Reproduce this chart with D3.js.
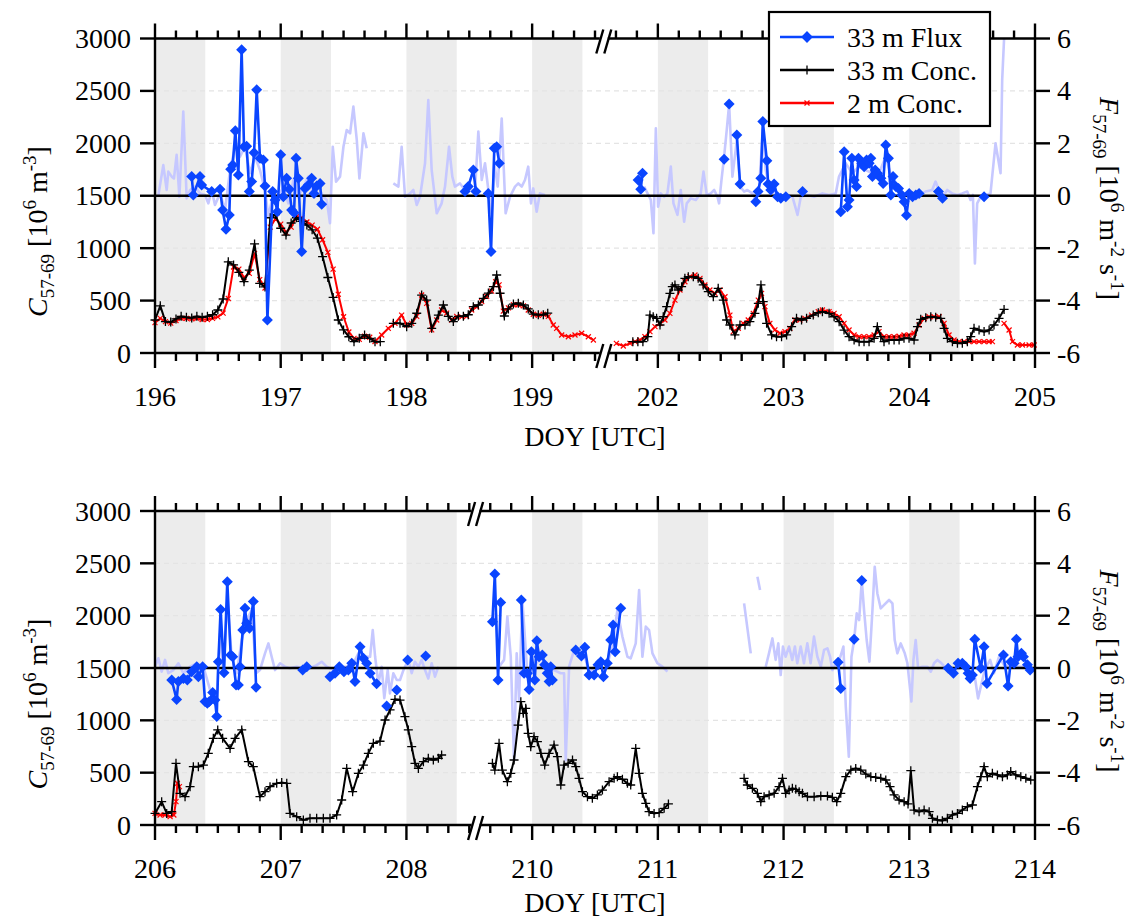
<!DOCTYPE html>
<html>
<head>
<meta charset="utf-8">
<script src="https://cdn.jsdelivr.net/npm/d3@7"></script>
<style>
  body { margin: 0; background: #fff; }
  svg { display: block; }
  text { font-family: "Liberation Serif", "Times New Roman", serif; fill: #000; }
</style>
</head>
<body>
<svg id="chart" width="1138" height="920"></svg>
<script>
// ---------------------------------------------------------------------------
// Axis definitions
// ---------------------------------------------------------------------------
const topDays = [196, 197, 198, 199, 202, 203, 204, 205];
const bottomDays = [206, 207, 208, 210, 211, 212, 213, 214];
const topRange = [196, 199.57, 201.57, 205];      // visible DOY, with a broken gap
const bottomRange = [206, 208.55, 209.55, 214];
const topNights = [196, 197, 198, 199, 202, 203, 204];
const bottomNights = [206, 207, 208, 210, 211, 212, 213];
const nightLength = 0.4;
const concTicks = [0, 500, 1000, 1500, 2000, 2500, 3000];
const concGrid = [500, 1000, 2000, 2500];
const fluxTicks = [-6, -4, -2, 0, 2, 4, 6];
const legendLabels = ["33 m Flux", "33 m Conc.", "2 m Conc."];

// ---------------------------------------------------------------------------
// Measurements: [DOY, value]; null marks a gap in a record
// ---------------------------------------------------------------------------
// 33 m particle flux, quality-controlled  [10^6 m^-2 s^-1]
const flux33Top = [
  [196.292,0.73],[196.305,0.03],[196.358,0.73],[196.371,0.41],[196.451,0.16],[196.517,0.25],[196.538,-0.54],
  [196.565,-1.28],[196.591,-0.73],[196.602,1.01],[196.618,1.17],[196.639,2.48],[196.663,0.79],[196.689,5.57],
  [196.708,1.87],[196.729,1.89],[196.75,0.16],[196.769,0.54],[196.788,1.64],[196.809,4.04],[196.835,1.43],
  [196.862,1.36],[196.875,0.37],[196.894,-4.74],[196.936,0.16],[196.955,-0.16],[196.973,-0.61],[197.0,1.56],
  [197.021,-0.04],[197.047,0.67],[197.069,0.25],[197.087,-0.54],[197.106,-0.65],[197.122,1.43],[197.14,0.67],
  [197.167,-2.13],[197.193,0.28],[197.22,0.41],[197.246,0.67],[197.265,0.09],[197.286,0.37],[197.313,0.47],
  [197.326,-0.32],
  null,
  [198.466,0.16],[198.492,0.35],[198.532,0.98],[198.553,0.16],
  null,
  [198.651,0.09],[198.673,-2.13],[198.699,1.81],[198.718,1.87],[198.739,1.24],
  null,
  [201.843,0.6],[201.864,0.25],[201.878,0.86],null,[202.527,1.39],null,[202.567,3.5],null,
  [202.628,2.32],[202.654,0.45],
  null,
  [202.779,-0.23],[202.797,0.16],[202.819,0.67],[202.835,2.83],[202.867,1.34],[202.877,0.45],[202.898,0.22],
  [202.925,0.45],[202.952,-0.04],[202.978,-0.1],[203.018,-0.04],null,[203.151,0.16],
  null,
  [203.455,-0.61],[203.482,1.68],[203.508,-0.42],[203.521,-0.16],[203.543,1.43],[203.561,0.6],[203.58,0.35],
  [203.596,1.43],[203.622,1.24],[203.641,1.11],[203.66,1.36],[203.681,1.24],[203.694,1.43],[203.707,0.73],
  [203.729,0.98],[203.747,0.86],[203.774,0.67],[203.792,0.47],[203.813,1.94],[203.834,1.43],[203.853,0.03],
  [203.871,0.73],[203.893,0.35],[203.914,0.28],[203.94,0.03],[203.959,-0.23],[203.978,-0.74],[203.999,0.09],
  [204.026,-0.04],[204.052,0.03],[204.078,0.09],
  null,
  [204.232,0.16],[204.264,-0.1],null,[204.595,-0.04]
];

const flux33Bottom = [
  [206.133,-0.46],[206.172,-1.2],[206.186,-0.52],[206.226,-0.4],[206.257,-0.46],[206.292,-0.14],[206.332,0.05],
  [206.345,-0.33],[206.379,0.05],[206.398,-1.28],[206.416,-1.35],[206.432,-1.28],[206.459,-0.94],[206.477,-1.22],
  [206.491,-1.85],[206.504,0.24],[206.522,2.24],[206.549,-0.18],[206.575,3.3],[206.602,0.5],[206.618,0.43],
  [206.645,-0.65],[206.663,-0.65],[206.676,0.05],[206.698,1.45],[206.716,2.28],[206.729,1.71],[206.751,1.52],
  [206.782,2.54],[206.804,-0.74],
  null,
  [207.175,-0.08],[207.207,0.05],
  null,
  [207.392,-0.33],[207.432,-0.2],[207.466,0.05],[207.503,-0.14],[207.538,-0.08],[207.565,0.18],[207.591,-0.52],
  [207.631,0.81],[207.658,0.37],[207.684,0.18],[207.711,-0.2],[207.763,-0.6],
  null,[207.843,-1.45],null,[207.923,-0.84],null,[208.01,0.31],null,[208.153,0.46],
  null,
  [209.684,1.77],[209.703,3.59],[209.729,-0.46],[209.75,2.5],
  null,
  [209.914,2.6],[209.936,-0.2],[209.962,-0.2],[209.976,-0.82],[209.994,0.62],[210.021,-0.46],[210.037,1.04],
  [210.055,0.43],[210.081,0.5],[210.1,0.12],[210.12,-0.2],[210.135,-0.52],[210.148,0.05],[210.161,-0.46],
  null,
  [210.347,0.69],[210.392,0.46],[210.419,0.79],[210.453,-0.27],[210.493,-0.27],[210.524,0.12],[210.546,0.24],
  [210.567,-0.33],[210.598,0.18],[210.625,1.07],[210.644,1.64],[210.66,0.62],[210.705,2.28],
  null,
  [212.434,0.22],[212.455,-0.78],null,[212.561,1.1],null,[212.622,3.34],
  null,
  [213.309,-0.01],[213.351,-0.2],[213.388,0.18],[213.422,0.18],[213.449,0.05],[213.468,-0.2],[213.484,-0.4],
  [213.502,-0.27],[213.521,1.1],[213.569,-0.01],[213.595,0.81],[213.617,-0.59],[213.749,0.5],[213.786,-0.69],
  [213.807,0.24],[213.834,0.18],[213.852,1.1],[213.865,0.43],[213.892,0.56],[213.908,0.43],[213.94,0.12],
  [213.961,-0.08]
];

// 33 m particle flux, all half-hour intervals (drawn faint)
const fluxAllTop = [
  [196.027,0.03],[196.066,1.17],[196.093,0.22],[196.106,0.92],[196.133,0.73],[196.151,0.66],[196.172,1.56],
  [196.194,-0.04],[196.225,3.21],[196.252,-0.1],[196.279,0.22],[196.318,0.35],[196.358,0.09],[196.398,0.03],
  [196.424,-0.29],[196.451,0.22],[196.477,-0.35],[196.517,0.09],[196.557,-0.54],[196.597,0.98],[196.637,1.87],
  [196.676,1.49],[196.716,1.87],[196.756,0.86],[196.795,1.49],[196.835,0.98],[196.875,0.22],[196.902,-0.8],
  [196.941,0.09],[196.981,-0.04],[197.021,0.35],[197.061,-0.29],[197.101,0.6],[197.14,-0.04],[197.18,0.35],
  [197.22,0.73],[197.26,-0.04],[197.3,0.35],[197.339,-0.04],[197.366,-0.16],[197.392,-1.05],[197.414,1.87],
  [197.44,0.54],[197.472,0.73],[197.499,1.87],[197.525,2.51],[197.552,2.38],[197.578,3.4],[197.605,2.13],
  [197.626,0.66],[197.658,2.38],[197.684,1.81],
  null,
  [197.896,0.47],[197.936,0.35],[197.962,1.87],[197.989,-0.04],[198.029,0.09],[198.055,0.22],[198.082,-0.35],
  [198.108,-0.04],[198.148,1.24],[198.174,3.65],[198.201,0.98],[198.241,-0.67],[198.28,-0.29],[198.307,0.35],
  [198.339,1.87],[198.365,0.73],[198.386,0.35],[198.426,0.47],[198.466,0.22],[198.506,0.22],[198.546,0.22],
  [198.572,2.45],[198.599,0.6],[198.625,1.24],[198.652,0.22],[198.678,-0.67],[198.699,1.24],[198.726,0.35],
  [198.758,2.95],[198.789,-0.67],[198.824,-0.04],[198.864,0.35],[198.89,0.47],[198.917,0.35],[198.943,0.6],
  [198.969,1.11],[198.991,-0.29],[199.009,0.28],[199.036,-0.61],[199.062,0.09],[199.102,0.03],
  null,
  [201.891,0.35],[201.944,-0.16],[201.965,-1.43],[201.984,2.57],[202.002,-0.42],[202.023,0.09],[202.05,-0.04],
  [202.076,0.09],[202.103,1.11],[202.124,-0.29],[202.156,-0.73],[202.182,0.22],[202.209,-0.99],[202.23,-0.29],
  [202.262,-0.1],[202.302,-0.16],[202.341,0.09],[202.363,0.92],[202.389,0.03],[202.421,0.09],[202.448,0.22],
  [202.474,-0.04],[202.487,-0.29],[202.506,0.6],[202.527,1.49],[202.548,2.51],[202.567,3.5],[202.593,0.73],
  [202.628,2.1],[202.654,0.35],[202.686,0.16],[202.712,0.22],[202.751,0.09],[202.779,-0.16],[202.806,0.35],
  [202.835,2.51],[202.858,0.98],[202.885,0.35],[202.925,0.09],[202.978,-0.04],[203.031,0.03],[203.071,-0.04],
  [203.111,-0.73],[203.137,-0.04],[203.19,0.03],[203.243,-0.04],[203.309,0.09],[203.362,0.03],[203.415,0.09],
  [203.441,0.73],[203.494,1.24],[203.547,0.86],[203.6,1.11],[203.653,0.98],[203.706,0.86],[203.759,0.86],
  [203.812,1.49],[203.865,0.6],[203.918,0.22],[203.971,-0.04],[204.023,0.09],[204.076,0.03],[204.129,0.16],
  [204.182,0.22],[204.209,0.54],[204.235,0.22],[204.275,0.03],[204.302,0.22],[204.341,0.09],[204.381,0.03],
  [204.421,0.09],[204.461,0.16],[204.487,-0.16],[204.506,0.03],[204.522,-2.58],[204.54,-0.29],[204.567,-0.04],
  [204.607,0.03],[204.646,0.09],[204.686,2.0],[204.726,0.86],[204.739,4.42],[204.758,6.4]
];

const fluxAllBottom = [
  [206.0,0.05],[206.027,0.37],[206.053,-0.14],[206.08,0.31],[206.106,-0.2],[206.146,-0.08],[206.186,0.18],
  [206.225,-0.2],[206.279,0.05],[206.332,0.18],[206.385,0.05],[206.438,-0.84],[206.491,-1.22],[206.517,1.32],
  [206.544,-0.2],[206.575,2.6],[206.61,0.43],[206.65,-0.2],[206.69,1.07],[206.73,1.83],[206.77,2.22],
  [206.804,-0.2],[206.835,-0.08],[206.875,0.56],[206.902,0.94],[206.928,0.43],[206.955,-0.08],[206.995,0.18],
  [207.034,0.05],[207.074,-0.01],[207.127,0.05],[207.18,-0.01],[207.233,-0.01],[207.286,0.11],[207.326,0.24],
  [207.366,0.05],[207.419,-0.08],[207.472,0.05],[207.525,0.05],[207.578,0.18],[207.618,0.56],[207.658,0.43],
  [207.711,0.43],[207.732,1.45],[207.751,0.43],[207.777,-0.59],[207.803,0.05],[207.824,-1.15],[207.851,-0.08],
  [207.869,-0.97],[207.896,-0.2],[207.923,-0.46],[207.949,-0.46],[207.976,-0.08],[208.015,0.31],[208.042,-0.2],
  [208.068,0.24],[208.095,0.05],[208.121,0.31],[208.148,-0.08],[208.174,-0.4],[208.201,0.18],[208.227,-0.33],
  [208.254,0.05],
  null,
  [209.684,1.83],[209.711,2.09],[209.737,0.05],[209.777,0.31],[209.803,1.96],[209.83,0.43],[209.856,-3.52],
  [209.877,0.56],[209.896,-1.22],[209.922,2.6],[209.962,-0.2],[210.015,0.05],[210.068,0.43],[210.121,-0.08],
  [210.174,-0.08],[210.227,-0.2],[210.254,-0.2],[210.267,-3.52],[210.294,0.05],[210.334,0.69],[210.373,0.43],
  [210.413,0.56],[210.453,-0.2],[210.493,0.05],[210.546,0.05],[210.585,-0.08],[210.638,0.82],[210.678,2.22],
  [210.718,1.2],[210.758,0.43],[210.784,0.37],[210.824,0.94],[210.851,2.98],[210.877,0.43],[210.904,1.58],
  [210.93,1.45],[210.957,0.56],[210.997,0.18],[211.036,0.05],[211.076,-0.14],
  null,
  [211.686,2.47],[211.739,0.56],null,[211.792,3.49],[211.813,2.98],
  null,
  [211.858,0.05],[211.884,0.56],[211.911,1.13],[211.937,0.31],[211.958,0.94],[211.977,-0.27],[211.995,0.82],
  [212.016,0.43],[212.043,0.82],[212.069,0.31],[212.09,0.82],[212.109,0.18],[212.136,0.82],[212.162,0.18],
  [212.189,0.94],[212.215,0.18],[212.242,1.2],[212.269,0.43],[212.296,0.05],[212.322,0.69],[212.349,0.75],
  [212.37,0.43],[212.388,-0.08],[212.415,0.18],[212.428,0.05],[212.476,0.82],[212.495,-1.48],[212.519,-3.39],
  [212.54,0.43],[212.561,1.07],[212.582,2.09],[212.601,1.83],[212.622,3.34],[212.64,2.22],[212.661,1.07],
  [212.683,0.24],[212.707,2.22],[212.725,3.87],[212.746,2.85],[212.773,2.28],[212.8,2.41],[212.839,2.6],
  [212.866,2.47],[212.884,1.07],[212.905,0.56],[212.932,0.94],[212.964,0.56],[212.985,0.18],[213.017,-1.28],
  [213.033,0.31],[213.051,1.07],[213.07,-0.01],[213.104,0.05],[213.144,0.05],[213.171,-0.14],[213.197,0.18],
  [213.224,0.31],[213.256,0.18],[213.282,0.05],[213.356,-0.08],[213.436,0.05],[213.489,-0.2],[213.521,-0.33],
  [213.547,-1.16],[213.569,-0.71],[213.6,-0.08],[213.643,0.31],[213.674,-0.2],[213.714,0.43],[213.754,0.11],
  [213.834,0.05],[213.94,0.05]
];

// 33 m particle concentration [10^6 m^-3]
const conc33Top = [
  [196.0,315],[196.042,450],[196.083,300],[196.125,295],[196.167,325],[196.208,350],[196.25,340],[196.292,335],
  [196.333,350],[196.375,340],[196.417,350],[196.458,365],[196.5,410],[196.542,515],[196.583,870],[196.625,840],
  [196.667,770],[196.708,680],[196.75,790],[196.792,1040],[196.833,665],[196.875,630],[196.917,1290],
  [196.958,1320],[197.0,1190],[197.042,1125],[197.083,1240],[197.125,1290],[197.167,1255],[197.208,1220],
  [197.25,1175],[197.292,1095],[197.333,920],[197.375,720],[197.417,530],[197.458,315],[197.5,220],
  [197.542,155],[197.583,108],[197.625,140],[197.667,172],[197.708,140],[197.75,108],[197.792,108],
  null,
  [197.896,283],[197.949,283],[198.002,251],[198.042,283],[198.082,379],[198.121,553],[198.161,505],
  [198.201,235],[198.254,362],[198.294,458],[198.333,350],[198.373,300],[198.413,350],[198.453,350],
  [198.492,365],[198.532,442],[198.572,458],[198.612,522],[198.652,572],[198.692,633],[198.718,744],
  [198.745,570],[198.779,353],[198.811,420],[198.851,467],[198.89,475],[198.93,458],[198.969,420],
  [199.009,370],[199.049,365],[199.089,365],[199.124,380],
  null,
  [201.801,108],[201.841,108],[201.881,108],[201.92,156],[201.937,362],[201.963,346],[201.99,331],
  [202.017,267],[202.043,346],[202.07,442],[202.096,569],[202.115,633],[202.136,649],[202.162,601],
  [202.189,633],[202.215,712],[202.242,728],[202.282,728],[202.321,712],[202.361,649],[202.401,585],
  [202.441,537],[202.48,617],[202.52,505],[202.547,315],[202.573,267],[202.613,172],[202.653,267],
  [202.693,267],[202.732,299],[202.772,378],[202.799,474],[202.82,649],[202.838,490],[202.865,283],
  [202.905,172],[202.944,156],[202.984,156],[203.024,172],[203.064,251],[203.103,331],[203.143,315],
  [203.183,331],[203.236,362],[203.276,385],[203.309,394],[203.362,378],[203.402,346],[203.442,299],
  [203.481,219],[203.521,156],[203.561,124],[203.601,108],[203.64,108],[203.68,108],[203.72,140],
  [203.746,251],[203.773,156],[203.799,108],[203.839,124],[203.879,124],[203.919,124],[203.958,140],
  [203.998,140],[204.038,124],[204.065,251],[204.091,321],[204.131,337],[204.171,346],[204.21,340],
  [204.25,331],[204.277,235],[204.303,140],[204.343,108],[204.383,92],[204.422,92],[204.462,108],
  [204.489,156],[204.515,235],[204.555,219],[204.595,204],[204.635,219],[204.674,267],[204.714,331],
  [204.754,416]
];

const conc33Bottom = [
  [206.0,111],[206.053,223],[206.093,111],[206.133,127],[206.167,589],[206.199,303],[206.239,271],[206.279,366],
  [206.305,557],[206.345,557],[206.385,573],[206.424,685],[206.464,828],[206.499,908],[206.538,828],
  [206.597,732],[206.637,828],[206.69,908],[206.743,605],[206.782,557],[206.835,271],[206.875,318],
  [206.915,366],[206.968,398],[207.008,405],[207.048,398],[207.074,111],[207.127,80],[207.18,48],[207.233,64],
  [207.286,64],[207.339,64],[207.392,64],[207.445,96],[207.485,239],[207.525,541],[207.572,318],[207.618,494],
  [207.658,573],[207.697,685],[207.737,780],[207.79,800],[207.83,1003],[207.87,1099],[207.909,1200],
  [207.949,1194],[207.988,1035],[208.015,908],[208.042,748],[208.068,589],[208.095,541],[208.135,605],
  [208.174,637],[208.214,621],[208.254,637],[208.28,669],
  null,
  [209.684,589],[209.703,525],[209.737,780],[209.763,525],[209.803,414],[209.83,494],[209.856,621],
  [209.888,955],[209.91,1178],[209.93,1067],[209.949,1115],[209.968,876],[209.989,748],[210.015,844],
  [210.042,796],[210.069,685],[210.1,573],[210.135,685],[210.174,764],[210.201,653],[210.228,382],
  [210.254,573],[210.286,589],[210.321,621],[210.347,557],[210.373,446],[210.4,318],[210.44,271],
  [210.479,255],[210.519,287],[210.559,334],[210.612,414],[210.652,446],[210.678,462],[210.718,437],
  [210.758,398],[210.784,382],[210.824,732],[210.851,494],[210.877,303],[210.904,207],[210.93,127],
  [210.97,111],[211.01,118],[211.05,159],[211.084,201],
  null,
  [211.686,446],[211.712,382],[211.752,350],[211.792,303],[211.819,223],[211.845,271],[211.885,287],
  [211.925,303],[211.964,366],[211.991,446],[212.017,303],[212.044,334],[212.07,350],[212.097,341],
  [212.124,318],[212.15,303],[212.19,271],[212.243,271],[212.296,277],[212.349,277],[212.388,264],
  [212.423,223],[212.455,303],[212.495,462],[212.535,525],[212.574,541],[212.614,525],[212.654,487],
  [212.694,462],[212.733,455],[212.773,446],[212.813,430],[212.847,366],[212.879,287],[212.919,239],
  [212.959,223],[212.99,201],[213.012,519],[213.038,143],[213.078,127],[213.118,143],[213.158,127],
  [213.184,64],[213.224,48],[213.263,41],[213.303,64],[213.343,96],[213.383,111],[213.422,143],
  [213.462,175],[213.502,191],[213.542,366],[213.569,462],[213.595,557],[213.621,462],[213.661,494],
  [213.701,478],[213.741,462],[213.78,478],[213.807,510],[213.847,478],[213.887,462],[213.927,446],
  [213.966,430]
];

// 2 m particle concentration [10^6 m^-3]
const conc2Top = [
  [196.0,290],[196.042,330],[196.083,300],[196.125,285],[196.167,310],[196.208,330],[196.25,330],[196.292,325],
  [196.333,330],[196.375,320],[196.417,320],[196.458,330],[196.5,345],[196.542,380],[196.583,520],[196.625,820],
  [196.667,800],[196.708,720],[196.75,760],[196.792,950],[196.833,700],[196.875,620],[196.917,1200],
  [196.958,1280],[197.0,1230],[197.042,1150],[197.083,1200],[197.125,1300],[197.167,1290],[197.208,1250],
  [197.25,1220],[197.292,1180],[197.333,1080],[197.375,960],[197.417,800],[197.458,560],[197.5,346],
  [197.542,200],[197.583,140],[197.625,130],[197.667,160],[197.708,150],[197.75,110],[197.803,172],
  [197.856,235],[197.909,283],[197.962,362],[198.002,267],[198.042,283],[198.082,350],[198.121,553],
  [198.161,474],[198.201,220],[198.241,315],[198.28,410],[198.32,380],[198.36,315],[198.4,350],[198.44,345],
  [198.479,350],[198.519,410],[198.559,440],[198.599,490],[198.638,540],[198.678,590],[198.71,680],
  [198.737,650],[198.771,400],[198.811,430],[198.851,460],[198.89,460],[198.93,450],[198.969,410],
  [199.009,370],[199.049,360],[199.089,370],[199.129,350],[199.168,267],[199.195,235],[199.235,172],
  [199.288,155],[199.341,172],[199.394,188],[199.447,155],[199.487,124],
  null,
  [201.67,92],[201.725,67],[201.778,92],[201.818,108],[201.858,124],[201.897,156],[201.937,204],[201.977,251],
  [202.017,283],[202.056,315],[202.096,378],[202.136,505],[202.176,601],[202.215,680],[202.255,728],
  [202.295,744],[202.335,712],[202.374,649],[202.414,601],[202.454,569],[202.494,601],[202.534,537],
  [202.573,362],[202.6,204],[202.64,235],[202.679,283],[202.719,315],[202.759,378],[202.799,505],
  [202.825,569],[202.852,442],[202.891,283],[202.931,220],[202.971,188],[203.011,204],[203.05,235],
  [203.09,315],[203.13,315],[203.17,331],[203.223,362],[203.276,394],[203.309,410],[203.362,394],
  [203.402,378],[203.442,346],[203.481,283],[203.521,219],[203.561,172],[203.601,156],[203.64,156],
  [203.68,156],[203.72,172],[203.759,204],[203.799,156],[203.839,156],[203.879,156],[203.919,160],
  [203.958,172],[203.998,172],[204.038,188],[204.078,267],[204.118,331],[204.157,346],[204.197,346],
  [204.237,346],[204.277,283],[204.316,172],[204.356,124],[204.396,108],[204.436,108],[204.475,108],
  [204.515,108],[204.555,108],[204.595,108],[204.635,108],[204.661,108],
  null,
  [204.754,283],[204.794,219],[204.821,108],[204.86,76],[204.9,76],[204.953,76],[204.993,76]
];

const conc2Bottom = [
  [206.0,111],[206.04,96],[206.08,96],[206.12,80],[206.15,96],[206.167,223],[206.178,398],[206.194,366]
];

// ---------------------------------------------------------------------------
// Layout
// ---------------------------------------------------------------------------
const svg = d3.select("#chart");
svg.append("rect").attr("width", 1138).attr("height", 920).attr("fill", "#fff");

const plotLeft = 155, plotRight = 1035;
const colors = {
  flux: "#0a45ff", fluxAll: "#c6c8ff", conc33: "#000", conc2: "#ff0000",
  night: "#ececec", grid: "#e4e4e4"
};
const fontMain = 28;

const panels = [
  { top: 38.5, bottom: 353, titleGap: 93, range: topRange, days: topDays, nights: topNights,
    flux: flux33Top, fluxAll: fluxAllTop, c33: conc33Top, c2: conc2Top, legend: true, id: "p1" },
  { top: 511, bottom: 825, titleGap: 87, range: bottomRange, days: bottomDays, nights: bottomNights,
    flux: flux33Bottom, fluxAll: fluxAllBottom, c33: conc33Bottom, c2: conc2Bottom, legend: false, id: "p2" }
];

// split a [t,v] series wherever it crosses the axis break
function splitAtBreak(data, gapStart) {
  const out = [];
  data.forEach(d => {
    const p = out.length ? out[out.length - 1] : null;
    if (d && p && p[0] < gapStart && d[0] > gapStart) out.push(null);
    out.push(d);
  });
  return out;
}

// rich text with subscripts / superscripts
function richText(sel, parts, size, small) {
  let shift = 0;
  parts.forEach(p => {
    const t = sel.append("tspan").text(p.t);
    let target = p.sub ? 7 : p.sup ? -11 : 0;
    t.attr("dy", target - shift);
    shift = target;
    if (p.sub || p.sup) t.attr("font-size", small);
    if (p.it) t.attr("font-style", "italic");
  });
}

panels.forEach(P => {
  const [d0, bA, bB, d3v] = P.range;
  const span = (bA - d0) + (d3v - bB);
  const xBreak = plotLeft + (bA - d0) / span * (plotRight - plotLeft);
  const x = d3.scaleLinear().domain([d0, bA, bB, d3v]).range([plotLeft, xBreak, xBreak, plotRight]);
  const yC = d3.scaleLinear().domain([0, 3000]).range([P.bottom, P.top]);
  const yF = d3.scaleLinear().domain([-6, 6]).range([P.bottom, P.top]);
  const g = svg.append("g");

  g.append("clipPath").attr("id", "clip-" + P.id)
    .append("rect").attr("x", plotLeft).attr("y", P.top)
    .attr("width", plotRight - plotLeft).attr("height", P.bottom - P.top);

  // night-time shading
  g.selectAll(".night").data(P.nights).join("rect")
    .attr("x", d => x(d)).attr("y", P.top)
    .attr("width", d => x(d + nightLength) - x(d)).attr("height", P.bottom - P.top)
    .attr("fill", colors.night);

  // horizontal grid
  g.selectAll(".grid").data(concGrid).join("line")
    .attr("x1", plotLeft).attr("x2", plotRight)
    .attr("y1", d => yC(d)).attr("y2", d => yC(d))
    .attr("stroke", colors.grid).attr("stroke-width", 1.2).attr("stroke-dasharray", "5,4");

  // faint full flux record
  const lineF = d3.line().defined(d => d != null).x(d => x(d[0])).y(d => yF(d[1]));
  g.append("path").datum(splitAtBreak(P.fluxAll, bA))
    .attr("d", lineF).attr("fill", "none").attr("stroke", colors.fluxAll)
    .attr("stroke-width", 2.6).attr("stroke-linejoin", "round")
    .attr("clip-path", `url(#clip-${P.id})`);

  // zero-flux line
  g.append("line").attr("x1", plotLeft).attr("x2", plotRight)
    .attr("y1", yF(0)).attr("y2", yF(0)).attr("stroke", "#000").attr("stroke-width", 2.4);

  // concentrations
  const lineC = d3.line().defined(d => d != null).x(d => x(d[0])).y(d => yC(d[1]));
  g.append("path").datum(splitAtBreak(P.c2, bA))
    .attr("d", lineC).attr("fill", "none").attr("stroke", colors.conc2).attr("stroke-width", 2);
  g.append("g").selectAll("path").data(P.c2.filter(d => d)).join("path")
    .attr("transform", d => `translate(${x(d[0])},${yC(d[1])})`)
    .attr("d", "M-2.5,-2.5L2.5,2.5M-2.5,2.5L2.5,-2.5")
    .attr("stroke", colors.conc2).attr("stroke-width", 1.2);

  g.append("path").datum(splitAtBreak(P.c33, bA))
    .attr("d", lineC).attr("fill", "none").attr("stroke", colors.conc33).attr("stroke-width", 2);
  g.append("g").selectAll("path").data(P.c33.filter(d => d)).join("path")
    .attr("transform", d => `translate(${x(d[0])},${yC(d[1])})`)
    .attr("d", "M-4.5,0H4.5M0,-4.5V4.5")
    .attr("stroke", colors.conc33).attr("stroke-width", 1.3);

  // quality-controlled flux
  g.append("path").datum(splitAtBreak(P.flux, bA))
    .attr("d", lineF).attr("fill", "none").attr("stroke", colors.flux)
    .attr("stroke-width", 2.6).attr("stroke-linejoin", "round");
  g.append("g").selectAll("path").data(P.flux.filter(d => d)).join("path")
    .attr("transform", d => `translate(${x(d[0])},${yF(d[1])})`)
    .attr("d", "M0,-5.5L5.5,0L0,5.5L-5.5,0Z")
    .attr("fill", colors.flux);

  // ---- axes frame ----
  const ax = svg.append("g").attr("stroke", "#000").attr("stroke-width", 2.4).attr("fill", "none");
  const gapHalf = 4;
  [P.top, P.bottom].forEach(yy => {
    ax.append("line").attr("x1", plotLeft).attr("x2", xBreak - gapHalf).attr("y1", yy).attr("y2", yy);
    ax.append("line").attr("x1", xBreak + gapHalf).attr("x2", plotRight).attr("y1", yy).attr("y2", yy);
    // break marks
    [-gapHalf, gapHalf].forEach(o => {
      ax.append("line")
        .attr("x1", xBreak + o - 3.5).attr("y1", yy + 15)
        .attr("x2", xBreak + o + 3.5).attr("y2", yy - 9);
    });
  });
  ax.append("line").attr("x1", plotLeft).attr("x2", plotLeft).attr("y1", P.top).attr("y2", P.bottom);
  ax.append("line").attr("x1", plotRight).attr("x2", plotRight).attr("y1", P.top).attr("y2", P.bottom);

  // x ticks every 4 h, longer at whole days
  const segs = [[d0, bA], [bB, d3v]];
  const tickTimes = [];
  segs.forEach(([a, b]) => {
    for (let k = Math.ceil(a * 6 - 1e-6); k <= Math.floor(b * 6 + 1e-6); k++) tickTimes.push(k);
  });
  tickTimes.forEach(k => {
    const major = k % 6 === 0;
    const len = major ? 15 : 8;
    const xx = x(k / 6);
    ax.append("line").attr("x1", xx).attr("x2", xx).attr("y1", P.bottom).attr("y2", P.bottom + len);
    ax.append("line").attr("x1", xx).attr("x2", xx).attr("y1", P.top).attr("y2", P.top - len);
  });

  // y ticks
  concTicks.forEach(v => {
    ax.append("line").attr("x1", plotLeft - 15).attr("x2", plotLeft).attr("y1", yC(v)).attr("y2", yC(v));
  });
  fluxTicks.forEach(v => {
    ax.append("line").attr("x1", plotRight).attr("x2", plotRight + 15).attr("y1", yF(v)).attr("y2", yF(v));
  });

  // tick labels
  const lab = svg.append("g").attr("font-size", fontMain);
  lab.selectAll(".xl").data(P.days).join("text")
    .attr("x", d => x(d)).attr("y", P.bottom + 53).attr("text-anchor", "middle").text(d => d);
  lab.selectAll(".yl").data(concTicks).join("text")
    .attr("x", plotLeft - 24).attr("y", d => yC(d)).attr("dy", "0.34em")
    .attr("text-anchor", "end").text(d => d);
  lab.selectAll(".fl").data(fluxTicks).join("text")
    .attr("x", plotRight + 22).attr("y", d => yF(d)).attr("dy", "0.34em")
    .attr("text-anchor", "start").text(d => d);

  // axis titles
  svg.append("text").attr("x", (plotLeft + plotRight) / 2).attr("y", P.bottom + P.titleGap)
    .attr("text-anchor", "middle").attr("font-size", fontMain).text("DOY [UTC]");

  const lt = svg.append("text").attr("font-size", fontMain).attr("text-anchor", "middle")
    .attr("transform", `translate(47,${P.top + 193}) rotate(-90)`);
  richText(lt, [{ t: "C", it: true }, { t: "57-69", sub: true }, { t: " [10" }, { t: "6", sup: true },
    { t: " m" }, { t: "-3", sup: true }, { t: "]" }], fontMain, 19);

  const rt = svg.append("text").attr("font-size", fontMain).attr("text-anchor", "middle")
    .attr("transform", `translate(1100,${P.top + 160}) rotate(90)`);
  richText(rt, [{ t: "F", it: true }, { t: "57-69", sub: true }, { t: " [10" }, { t: "6", sup: true },
    { t: " m" }, { t: "-2", sup: true }, { t: " s" }, { t: "-1", sup: true }, { t: "]" }], fontMain, 19);

  // legend
  if (P.legend) {
    const lg = svg.append("g");
    lg.append("rect").attr("x", 769).attr("y", 12).attr("width", 221).attr("height", 114)
      .attr("fill", "#fff").attr("stroke", "#000").attr("stroke-width", 2.2);
    const rows = [
      { label: legendLabels[0], color: colors.flux, mark: "M0,-5L5,0L0,5L-5,0Z", fill: true },
      { label: legendLabels[1], color: colors.conc33, mark: "M0,-4.5V4.5", fill: false },
      { label: legendLabels[2], color: colors.conc2, mark: "M-2.5,-2.5L2.5,2.5M-2.5,2.5L2.5,-2.5", fill: false }
    ];
    rows.forEach((r, i) => {
      const yy = 37 + i * 33;
      lg.append("line").attr("x1", 780).attr("x2", 834).attr("y1", yy).attr("y2", yy)
        .attr("stroke", r.color).attr("stroke-width", 2.4);
      lg.append("path").attr("transform", `translate(807,${yy})`).attr("d", r.mark)
        .attr("fill", r.fill ? r.color : "none").attr("stroke", r.color).attr("stroke-width", 1.3);
      lg.append("text").attr("x", 847).attr("y", yy + 10).attr("font-size", fontMain).text(r.label);
    });
  }
});
</script>
</body>
</html>
